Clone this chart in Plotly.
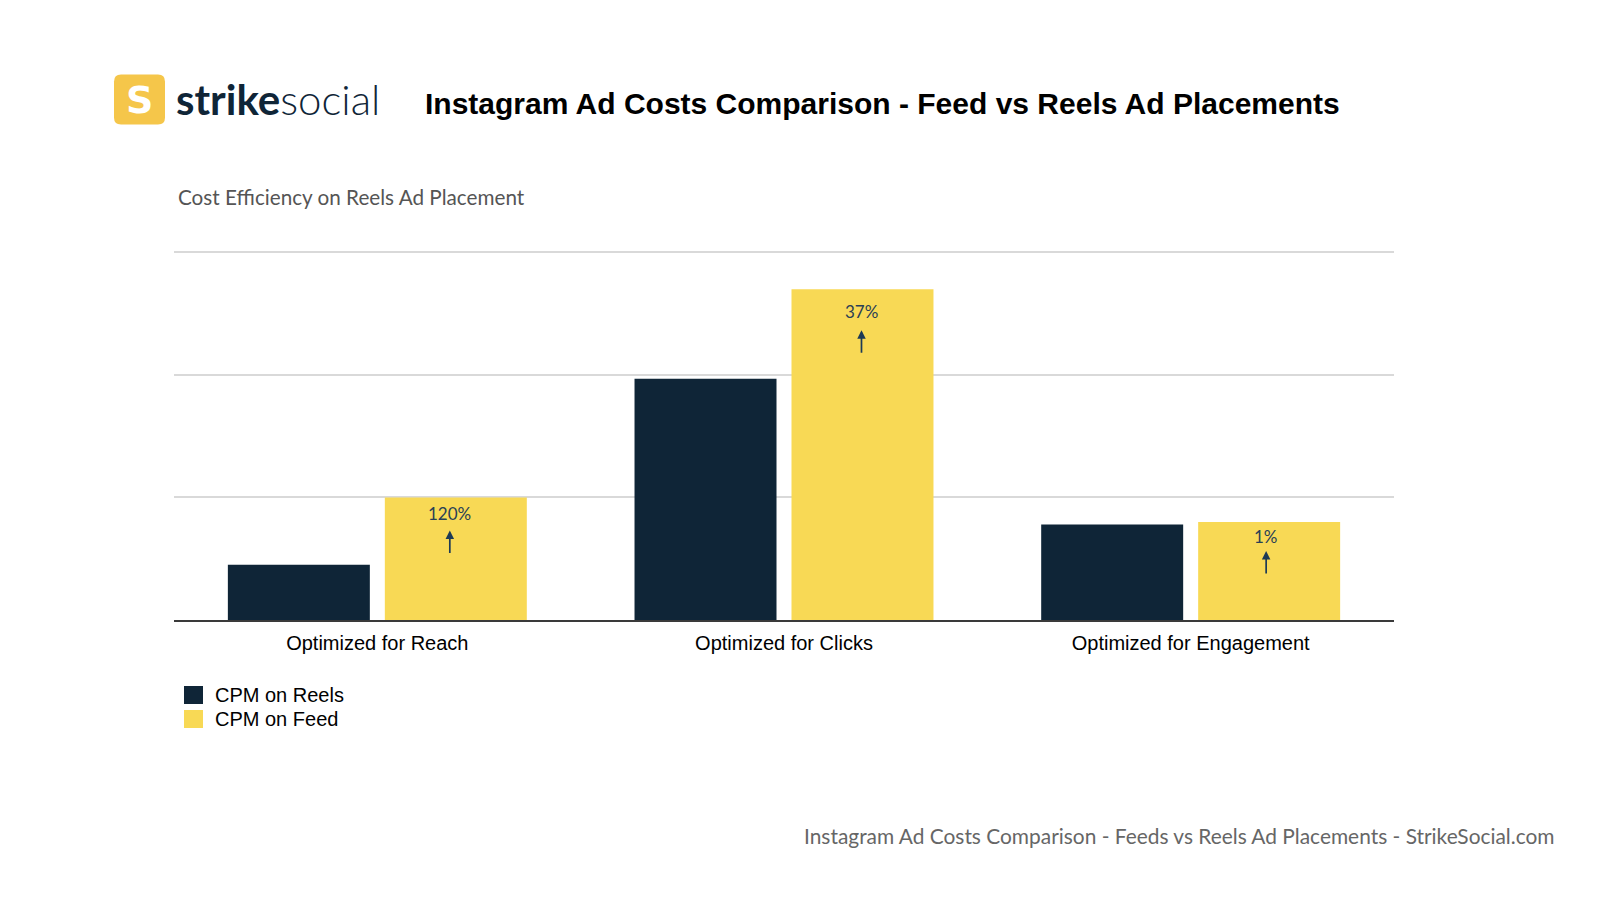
import plotly.graph_objects as go

# ---- data (relative units, gridline = 1) ----
categories = ["Optimized for Reach", "Optimized for Clicks", "Optimized for Engagement"]
reels_name = "CPM on Reels"
feed_name = "CPM on Feed"
cpm_reels = [0.45, 1.97, 0.78]
cpm_feed = [1.00, 2.70, 0.80]
pct_labels = ["120%", "37%", "1%"]

title_text = "Instagram Ad Costs Comparison - Feed vs Reels Ad Placements"
subtitle_text = "Cost Efficiency on Reels Ad Placement"
footer_text = "Instagram Ad Costs Comparison - Feeds vs Reels Ad Placements - StrikeSocial.com"

# ---- style ----
W, H = 1600, 900
YMAX = 3.02
UNIT = 122.67  # pixels per unit
L, R, B = 174, 206, 280
T = int(round(H - B - YMAX * UNIT))
NAVY = "#0f2537"
YELLOW = "#f8d955"
LOGO_YELLOW = "#f5c64a"
ARROW = "#1d3a55"
BARGAP = 0.228
GROUPGAP = 0.0955
# per-label placement inside the yellow bars (pixels below bar top)
LABEL_DROP = [16, 22, 15]
ARROW_DROP = [33, 41, 29]
LABEL_DX = [-6, -1, -3]

pw, ph = W - L - R, H - T - B


def px(x):
    return (x - L) / pw


def py(y):
    return (H - B - y) / ph


fig = go.Figure()
fig.add_trace(go.Bar(x=categories, y=cpm_reels, name=reels_name, marker_color=NAVY,
                     marker_line_width=0, showlegend=False))
fig.add_trace(go.Bar(x=categories, y=cpm_feed, name=feed_name, marker_color=YELLOW,
                     marker_line_width=0, showlegend=False))

annotations = []
shapes = []
offset = (1 - BARGAP) / 4  # centre of 2nd bar in a group, in category units
for i, (v, lab) in enumerate(zip(cpm_feed, pct_labels)):
    annotations.append(dict(x=i + offset, y=v, xref="x", yref="y", text=lab, showarrow=False,
                            yanchor="middle", yshift=-LABEL_DROP[i], xshift=LABEL_DX[i],
                            font=dict(family="Lato", size=17, color="#2a3f55")))
    annotations.append(dict(x=i + offset, y=v, xref="x", yref="y", text="", showarrow=True,
                            ax=0, ay=24, yshift=-ARROW_DROP[i], xshift=LABEL_DX[i],
                            arrowhead=2, arrowsize=1,
                            arrowwidth=1.7, arrowcolor=ARROW, standoff=0))

# title and texts
annotations.append(dict(x=px(423), y=py(103), xref="paper", yref="paper", xanchor="left",
                        yanchor="middle", showarrow=False, text="<b>" + title_text + "</b>",
                        font=dict(family="Liberation Sans", size=30, color="#000000")))
annotations.append(dict(x=px(176), y=py(197), xref="paper", yref="paper", xanchor="left",
                        yanchor="middle", showarrow=False, text=subtitle_text,
                        font=dict(family="Lato", size=20.7, color="#555555")))
annotations.append(dict(x=px(1557), y=py(835), xref="paper", yref="paper", xanchor="right",
                        yanchor="middle", showarrow=False, text=footer_text,
                        font=dict(family="Lato", size=20.9, color="#666666")))

# logo (rounded square)
x0, x1, y0, y1, r = px(114), px(165), py(124.5), py(74.5), 7
rx, ry = r / pw, r / ph
logo_path = (f"M{x0+rx},{y0} L{x1-rx},{y0} Q{x1},{y0} {x1},{y0+ry} L{x1},{y1-ry} "
             f"Q{x1},{y1} {x1-rx},{y1} L{x0+rx},{y1} Q{x0},{y1} {x0},{y1-ry} "
             f"L{x0},{y0+ry} Q{x0},{y0} {x0+rx},{y0} Z")
shapes.append(dict(type="path", xref="paper", yref="paper", path=logo_path,
                   fillcolor=LOGO_YELLOW, line_width=0, layer="above"))
annotations.append(dict(x=px(139.5), y=py(100), xref="paper", yref="paper", xanchor="center",
                        yanchor="middle", showarrow=False, text="<b>S</b>",
                        font=dict(family="DejaVu Sans", size=38, color="#ffffff")))
annotations.append(dict(x=px(174), y=py(99), xref="paper", yref="paper", xanchor="left",
                        yanchor="middle", showarrow=False,
                        text="<b>strike</b><span style='font-weight:300'>social</span>",
                        font=dict(family="Lato", size=42, color=NAVY)))

# custom legend
for j, (nm, col) in enumerate([(reels_name, NAVY), (feed_name, YELLOW)]):
    yt = 686 + j * 24
    shapes.append(dict(type="rect", xref="paper", yref="paper", x0=px(184), x1=px(203),
                       y0=py(yt + 18), y1=py(yt), fillcolor=col, line_width=0))
    annotations.append(dict(x=px(213), y=py(yt + 9), xref="paper", yref="paper",
                            xanchor="left", yanchor="middle", showarrow=False, text=nm,
                            font=dict(family="Liberation Sans", size=20, color="#000000")))

fig.update_layout(
    width=W, height=H,
    margin=dict(l=L, r=R, t=T, b=B),
    paper_bgcolor="white", plot_bgcolor="white",
    barmode="group", bargap=BARGAP, bargroupgap=GROUPGAP,
    annotations=annotations, shapes=shapes,
    showlegend=False,
    xaxis=dict(showline=True, linecolor="#3a3a3a", linewidth=1.5, showgrid=False,
               ticks="", ticklabelstandoff=4,
               tickfont=dict(family="Liberation Sans", size=20, color="#000000"),
               fixedrange=True),
    yaxis=dict(range=[0, YMAX], dtick=1, showticklabels=False, showgrid=True,
               gridcolor="#d9d9d9", gridwidth=1.5, zeroline=False, fixedrange=True),
)

fig.write_html("out.html", config={"displayModeBar": False},
               post_script="document.body.style.margin='0';document.body.style.overflow='hidden';")
